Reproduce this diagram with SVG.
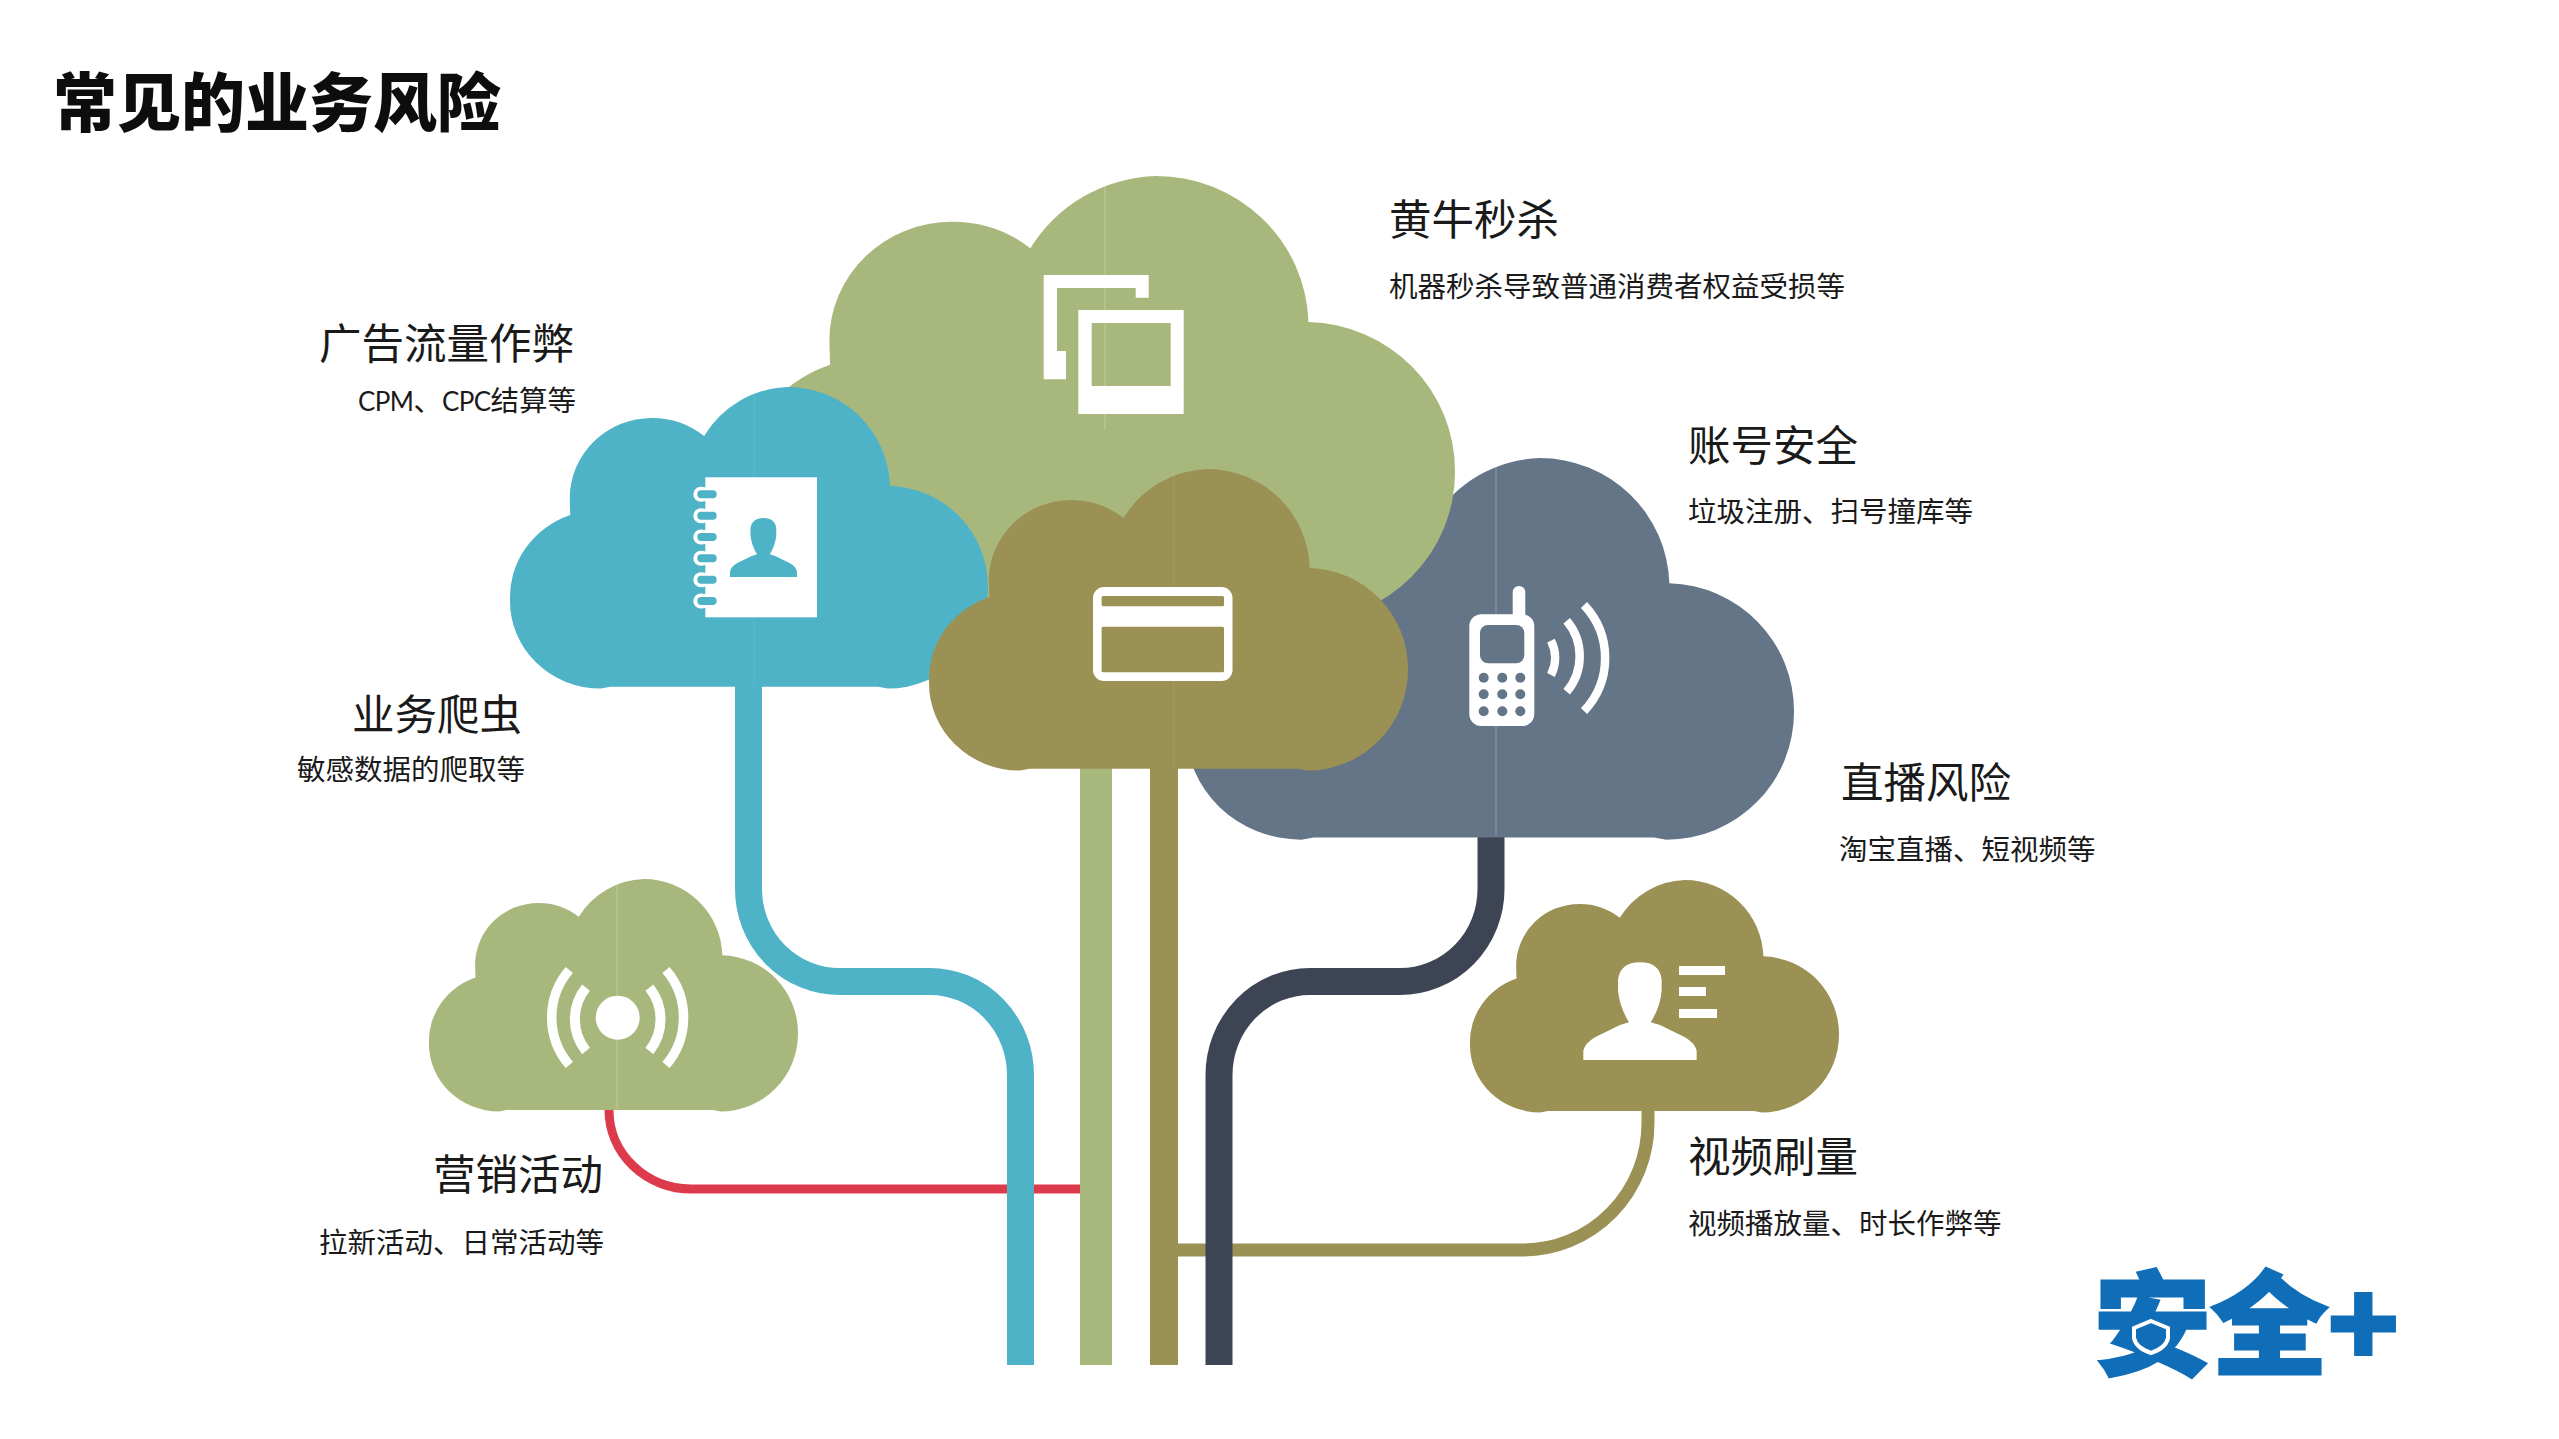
<svg xmlns="http://www.w3.org/2000/svg" width="2559" height="1439" viewBox="0 0 2559 1439">
<style>
text{font-family:"Noto Sans CJK SC","Noto Sans",sans-serif;fill:#1a1a1a}
.h{font-size:42.5px}.s{font-size:28.5px}.r{text-anchor:end}
.lat{font-family:"Lato","Noto Sans CJK SC",sans-serif;font-size:26px;letter-spacing:-.6px}
.title{font-size:64px;font-weight:900;fill:#0d0d0d}
.green{fill:#a8b87d}.blue{fill:#4fb3c8}.brown{fill:#9b9155}.slate{fill:#657588}
.seam{stroke:#fff;stroke-opacity:.25;stroke-width:1;vector-effect:non-scaling-stroke}
.seam2{stroke-opacity:.1}
.wave{fill:none;stroke:#fff}
.ln{fill:none}
</style>
<defs>
<path id="cloud" d="M210 996L190 1002A190 290 0 0 1 0 710A190 290 0 0 1 126 425L125 370A172 267 0 0 1 297 103A172 267 0 0 1 406 163A213 339 0 0 1 582 0A213 339 0 0 1 795 329A210 335 0 0 1 1000 665A210 335 0 0 1 790 1002L770 996Z"/>
<path id="person" d="M70 390V362Q75 340 105 322L180 285L207 277Q178 230 174 180V150Q180 97 240 97Q300 97 305 150V180Q302 230 272 277L300 285L375 322Q405 340 410 362V390Z"/>
</defs>
<text class="title" x="53" y="126">常见的业务风险</text>
<g id="connectors" class="ln">
<path stroke="#dd3b4c" stroke-width="9" d="M609 1100V1110A82 79 0 0 0 691 1189H1085"/>
<path stroke="#4fb3c8" stroke-width="27" d="M748.5 680V889A91 92.5 0 0 0 839.5 981.5H930A90.5 93.5 0 0 1 1020.5 1075V1365"/>
<path stroke="#a8b87d" stroke-width="32" d="M1096 760V1365"/>
<path stroke="#9b9155" stroke-width="13" d="M1648 1105V1123A125 127 0 0 1 1523 1250H1170"/>
<path stroke="#9b9155" stroke-width="28" d="M1164 760V1365"/>
<path stroke="#3d4555" stroke-width="27" d="M1491 830V889A91 92.5 0 0 1 1400 981.5H1310A91 93.5 0 0 0 1219 1075V1365"/>
</g>
<g id="cloud-zhanghao">
<use href="#cloud" class="slate" transform="translate(1186 458) scale(.608 .381)"/>
<line class="seam" x1="1496" y1="466" x2="1496" y2="836"/>
<rect x="1469.3" y="614.3" width="65" height="111.7" rx="12" fill="#fff"/>
<rect x="1512.7" y="586" width="12.6" height="40" rx="6.3" fill="#fff"/>
<rect x="1480" y="625" width="44.3" height="38.3" rx="8" class="slate"/>
<g class="slate">
<circle cx="1483.7" cy="677.7" r="5"/><circle cx="1502.3" cy="677.7" r="5"/><circle cx="1520.3" cy="677.7" r="5"/>
<circle cx="1483.7" cy="694.3" r="5"/><circle cx="1502.3" cy="694.3" r="5"/><circle cx="1520.3" cy="694.3" r="5"/>
<circle cx="1483.7" cy="711.3" r="5"/><circle cx="1502.3" cy="711.3" r="5"/><circle cx="1520.3" cy="711.3" r="5"/>
</g>
<g class="wave" stroke-width="8.5">
<path d="M1551 640.7A38 38 0 0 1 1551 675"/>
<path d="M1566.7 620.7A55 55 0 0 1 1566.7 691.7"/>
<path d="M1584 605A77 77 0 0 1 1584 711"/>
</g>
<text class="h" x="1688" y="461">账号安全</text>
<text class="s" x="1688" y="522">垃圾注册、扫号撞库等</text>
<text class="h" x="1841" y="798">直播风险</text>
<text class="s" x="1839" y="860">淘宝直播、短视频等</text>
</g>
<g id="cloud-huangniu">
<use href="#cloud" class="green" transform="translate(740 176) scale(.715 .444)"/>
<line class="seam" x1="1105" y1="185" x2="1105" y2="430"/>
<path fill="#fff" fill-rule="evenodd" d="M1043.7 275H1148.7V297.7H1135.7V288H1057V351H1066V379.3H1043.7Z"/>
<path fill="#fff" fill-rule="evenodd" d="M1078.3 310H1183.7V414H1078.3ZM1091.7 323V386H1170.7V323Z"/>
<text class="h" x="1389" y="235">黄牛秒杀</text>
<text class="s" x="1389" y="297">机器秒杀导致普通消费者权益受损等</text>
</g>
<g id="cloud-guanggao">
<use href="#cloud" class="blue" transform="translate(510 387) scale(.478 .301)"/>
<line class="seam seam2" x1="754" y1="394" x2="754" y2="685"/>
<rect x="705.3" y="477.3" width="111.7" height="140" fill="#fff"/>
<g fill="#fff">
<rect x="693.3" y="486.8" width="16" height="15" rx="7.5"/><rect x="693.3" y="508.2" width="16" height="15" rx="7.5"/><rect x="693.3" y="529.5" width="16" height="15" rx="7.5"/><rect x="693.3" y="550.8" width="16" height="15" rx="7.5"/><rect x="693.3" y="572.2" width="16" height="15" rx="7.5"/><rect x="693.3" y="593.5" width="16" height="15" rx="7.5"/>
</g>
<g class="blue">
<rect x="697.3" y="490.3" width="19.4" height="8" rx="4"/><rect x="697.3" y="511.7" width="19.4" height="8" rx="4"/><rect x="697.3" y="533" width="19.4" height="8" rx="4"/><rect x="697.3" y="554.3" width="19.4" height="8" rx="4"/><rect x="697.3" y="575.7" width="19.4" height="8" rx="4"/><rect x="697.3" y="597" width="19.4" height="8" rx="4"/>
<use href="#person" transform="translate(716.2 498.5) scale(.197 .2014)"/>
</g>
<text class="h r" x="574" y="359">广告流量作弊</text>
<text class="s r" x="576" y="411"><tspan class="lat">CPM</tspan>、<tspan class="lat">CPC</tspan>结算等</text>
<text class="h r" x="522" y="730">业务爬虫</text>
<text class="s r" x="525" y="780">敏感数据的爬取等</text>
</g>
<g id="cloud-center">
<use href="#cloud" class="brown" transform="translate(929 469) scale(.479 .301)"/>
<line class="seam seam2" x1="1174" y1="476" x2="1174" y2="767"/>
<rect x="1093" y="587" width="139.5" height="94" rx="11" fill="#fff"/>
<g class="brown">
<rect x="1101.6" y="596" width="122.4" height="10.3" rx="1.5"/>
<rect x="1101.6" y="626.7" width="122.4" height="45.6" rx="1.5"/>
</g>
</g>
<g id="cloud-yingxiao">
<use href="#cloud" class="green" transform="translate(429 879) scale(.369 .232)"/>
<line class="seam" x1="617" y1="884" x2="617" y2="1109"/>
<circle cx="617.7" cy="1017.7" r="22" fill="#fff"/>
<g class="wave">
<path stroke-width="9.5" d="M569.3 970A73 73 0 0 0 569.3 1065"/>
<path stroke-width="10" d="M586 987.7A50.6 50.6 0 0 0 586 1051"/>
<path stroke-width="9.5" d="M666 970A73 73 0 0 1 666 1065"/>
<path stroke-width="10" d="M649.4 987.7A50.6 50.6 0 0 1 649.4 1051"/>
</g>
<text class="h r" x="603" y="1190">营销活动</text>
<text class="s r" x="604" y="1253">拉新活动、日常活动等</text>
</g>
<g id="cloud-shipin">
<use href="#cloud" class="brown" transform="translate(1470 880) scale(.369 .232)"/>
<use href="#person" fill="#fff" transform="translate(1560 930) scale(.3333)"/>
<g fill="#fff">
<rect x="1679" y="966" width="46" height="9"/>
<rect x="1679" y="987" width="27" height="9"/>
<rect x="1679" y="1009" width="38" height="9"/>
</g>
<text class="h" x="1688" y="1172">视频刷量</text>
<text class="s" x="1688" y="1234">视频播放量、时长作弊等</text>
</g>
<g id="logo">
<text x="2094" y="1366" font-size="112" font-weight="900" textLength="305" lengthAdjust="spacingAndGlyphs" style="fill:#106eb8;stroke:#106eb8;stroke-width:3">安全+</text>
<path d="M2151 1321L2168 1328V1338Q2166 1348 2151 1353Q2136 1348 2134 1338V1328Z" fill="#106eb8" stroke="#fff" stroke-width="4"/>
</g>
</svg>
